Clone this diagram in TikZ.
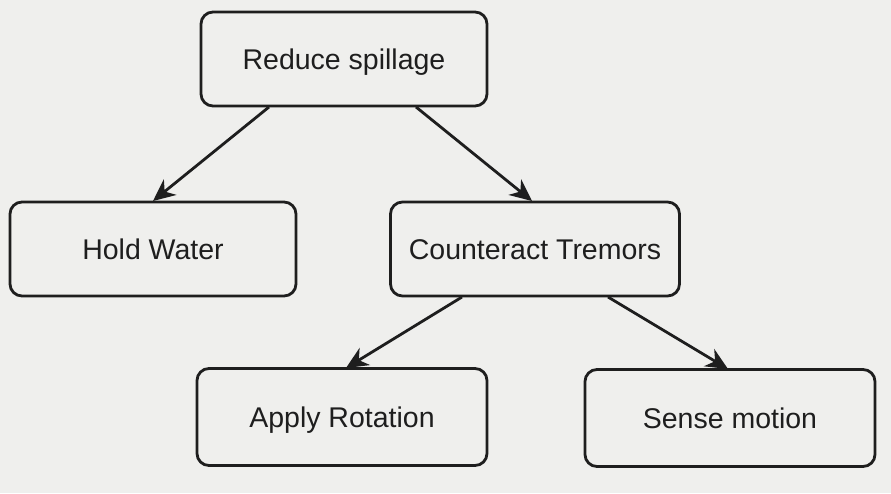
\documentclass[tikz,border=0pt]{standalone}
\usepackage{fontspec}
\setmainfont{Liberation Sans}
\usetikzlibrary{arrows.meta}
\definecolor{paper}{HTML}{EFEFED}
\definecolor{ink}{HTML}{1E1E1E}
\begin{document}
\begin{tikzpicture}[x=1pt,y=-1pt,
  box/.style={draw=ink, line width=2.8pt, rounded corners=12pt, fill=paper,
    minimum width=286pt, minimum height=94pt, inner sep=0pt,
    text height=20.5pt, text depth=0pt,
    font=\fontsize{28.5}{33}\selectfont, text=ink},
  conn/.style={draw=ink, line width=2.8pt,
    -{Stealth[length=22pt,width=20pt,inset=7pt]}}]
\fill[paper] (0,0) rectangle (891,493);
\useasboundingbox (0,0) rectangle (891,493);
\node[box] (rs) at (344,59) {Reduce spillage};
\node[box] (hw) at (153,249) {Hold Water};
\node[box, minimum width=289pt] (ct) at (535,249) {Counteract Tremors};
\node[box, minimum width=290pt, minimum height=97pt] (ar) at (342,417) {Apply Rotation};
\node[box, minimum width=290pt, minimum height=97pt] (sm) at (730,418) {Sense motion};
\coordinate (a1s) at (269,107);
\coordinate (a1e) at (153,201);
\coordinate (a2s) at (416,107);
\coordinate (a2e) at (532,201);
\coordinate (a3s) at (462,297);
\coordinate (a3e) at (346,368);
\coordinate (a4s) at (608,297);
\coordinate (a4e) at (728,369);
\draw[conn] (a1s) -- (a1e);
\draw[conn] (a2s) -- (a2e);
\draw[conn] (a3s) -- (a3e);
\draw[conn] (a4s) -- (a4e);
\end{tikzpicture}
\end{document}
